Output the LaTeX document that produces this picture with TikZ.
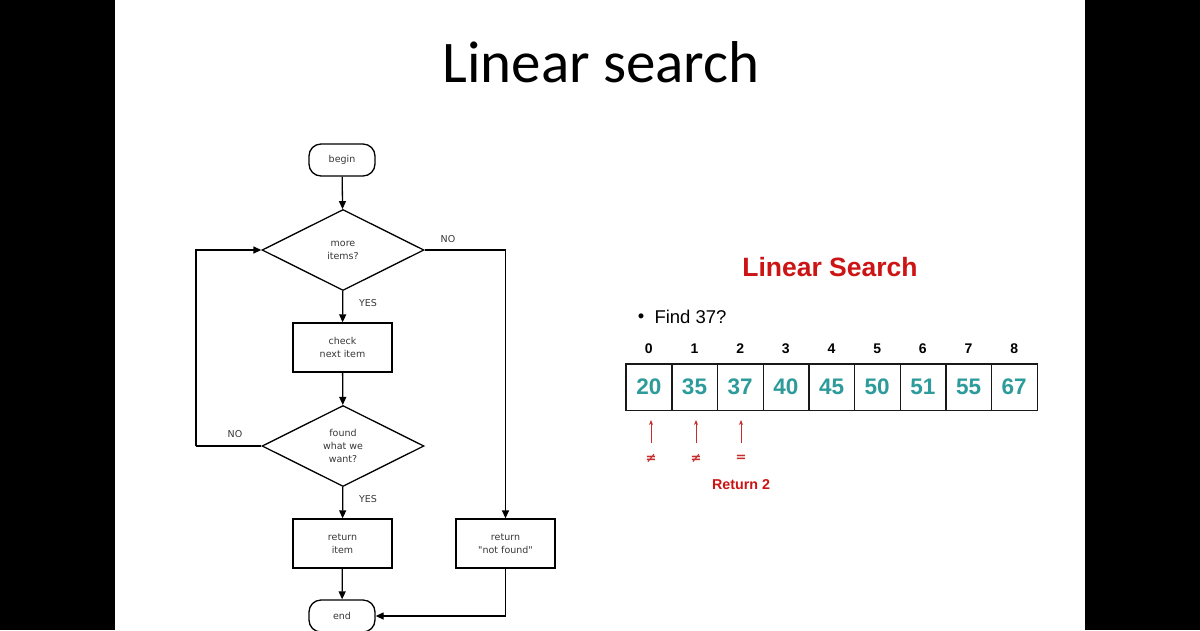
\documentclass[tikz,border=0pt]{standalone}
\usepackage{fontspec}
\setmainfont{Liberation Sans}
\newfontfamily\titlefont{Carlito}
\newfontfamily\flowfont{DejaVu Sans}
\usetikzlibrary{shapes.geometric,arrows.meta}
\definecolor{flowtext}{RGB}{55,55,55}
\definecolor{slidered}{RGB}{205,20,20}
\definecolor{arrred}{RGB}{200,45,45}
\definecolor{teal2}{RGB}{45,155,155}
\tikzset{
  flow/.style={font=\flowfont\fontsize{9.5}{13}\selectfont, text=flowtext, align=center},
  term/.style={flow, draw=black, line width=1.3pt, rounded corners=12pt, minimum width=66pt, minimum height=32pt, inner sep=0pt},
  proc/.style={flow, draw=black, line width=1.3pt, minimum width=99pt, minimum height=49pt, inner sep=0pt},
  dec/.style={flow, draw=black, line width=1.3pt, diamond, minimum width=162pt, minimum height=81pt, inner sep=0pt},
  lab/.style={flow},
  conn/.style={line width=1.3pt, -{Triangle[length=8pt,width=7pt]}},
  line/.style={line width=1.3pt},
  cell/.style={minimum width=45.67pt, minimum height=46pt, inner sep=0pt, text=teal2, font=\bfseries\fontsize{22.5}{24}\selectfont},
  grid/.style={draw=black!90, line width=1.4pt},
  idx/.style={font=\bfseries\fontsize{14}{16}\selectfont, text=black},
  sym/.style={font=\flowfont\bfseries\fontsize{13}{15}\selectfont, text=arrred, inner sep=1pt},
  redarrow/.style={draw=arrred, line width=0.9pt, -{Stealth[length=5pt,width=4pt]}}
}
\begin{document}
\begin{tikzpicture}[x=1pt,y=-1pt]
\fill[black] (0,0) rectangle (1200,630);
\fill[white] (114.5,0) rectangle (1085,630);
\useasboundingbox (0,0) rectangle (1200,630);

% title
\node[font=\titlefont\fontsize{59}{64}\selectfont, anchor=base] (title) at (601,82) {Linear search};

% flowchart
\node[term] (begin) at (342,160) {begin};
\node[dec] (d1) at (343,250) {more\\items?};
\node[proc] (check) at (342.5,347.5) {check\\next item};
\node[dec] (d2) at (343,446) {found\\what we\\want?};
\node[proc] (ret) at (342.5,543.5) {return\\item};
\node[proc] (nf) at (505.5,543.5) {return\\"not found"};
\node[term] (end) at (342,616) {end};
\coordinate (loop) at (196,446);

\node[lab] (no1) at (448,239) {NO};
\node[lab] (yes1) at (368,303) {YES};
\node[lab] (no2) at (235,434) {NO};
\node[lab] (yes2) at (368,499) {YES};

\draw[conn] (begin) -- (d1);
\draw[conn] (d1) -- (check);
\draw[conn] (check) -- (d2);
\draw[conn] (d2) -- (ret);
\draw[conn] (ret) -- (end);
\draw[conn] (d1.east) -| (nf.north);
\draw[line] (d2.west) -- (loop);
\draw[conn] (loop) |- (d1.west);
\draw[conn] (nf.south) |- (end.east);

% right side
\node[font=\bfseries\fontsize{26.5}{28}\selectfont, text=slidered] (rtitle) at (830,267) {Linear Search};
\node[font=\fontsize{18.5}{20}\selectfont, anchor=base west] (find) at (651,323.5) {Find 37?};
\node[font=\fontsize{18.5}{20}\selectfont, anchor=base] (bullet) at (641,322) {•};

\foreach \v [count=\i from 0] in {20,35,37,40,45,50,51,55,67} {
  \node[cell] (c\i) at ({626+45.67*(\i+0.5)},387) {\v};
  \node[idx] (i\i) at ({626+45.67*(\i+0.5)},349) {\i};
}
\draw[grid] (c0.north west) rectangle (c8.south east);
\foreach \i in {0,...,7} {
  \draw[grid] (c\i.north east) -- (c\i.south east);
}

\node[sym] (s0) at (651,458) {≠};
\node[sym] (s1) at (696,458) {≠};
\node[sym] (s2) at (741,458) {=};
\coordinate (t0) at (651,420);
\coordinate (t1) at (696,420);
\coordinate (t2) at (741,420);
\coordinate (b0) at (651,443);
\coordinate (b1) at (696,443);
\coordinate (b2) at (741,443);
\draw[redarrow] (b0) -- (t0);
\draw[redarrow] (b1) -- (t1);
\draw[redarrow] (b2) -- (t2);
\node[font=\bfseries\fontsize{14.3}{16}\selectfont, text=slidered] (ret2) at (741,485) {Return 2};
\end{tikzpicture}
\end{document}
